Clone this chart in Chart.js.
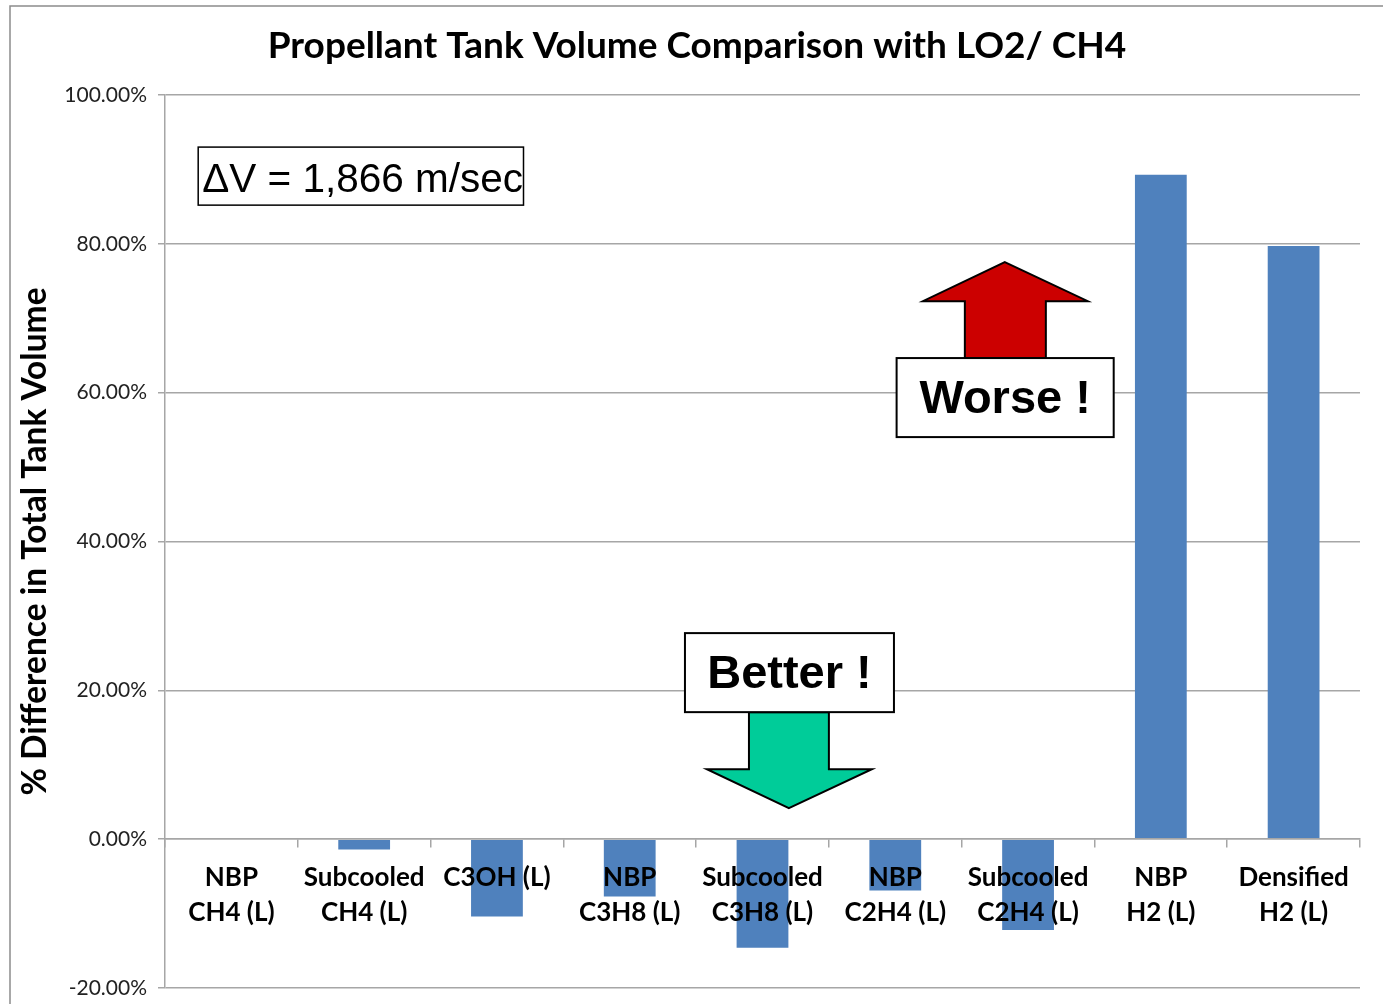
<!DOCTYPE html>
<html>
<head>
<meta charset="utf-8">
<script src="https://cdn.jsdelivr.net/npm/chart.js@4.4.1/dist/chart.umd.min.js"></script>
<style>
  html, body { margin: 0; padding: 0; background: #fff; }
  #wrap { position: absolute; left: 0; top: 0; width: 1383px; height: 1004px; }
</style>
</head>
<body>
<div id="wrap"><canvas id="c" width="1383" height="1004"></canvas></div>
<script>
// ---- data ----
const chartTitle = 'Propellant Tank Volume Comparison with LO2/ CH4';
const yAxisTitle = '% Difference in Total Tank Volume';
const categories = [
  ['NBP', 'CH4 (L)'],
  ['Subcooled', 'CH4 (L)'],
  'C3OH (L)',
  ['NBP', 'C3H8 (L)'],
  ['Subcooled', 'C3H8 (L)'],
  ['NBP', 'C2H4 (L)'],
  ['Subcooled', 'C2H4 (L)'],
  ['NBP', 'H2 (L)'],
  ['Densified', 'H2 (L)']
];
const pctDifference = [0, -1.4, -10.4, -7.7, -14.6, -6.9, -12.2, 89.3, 79.7];
const yTickValues = [-20, 0, 20, 40, 60, 80, 100];
const deltaVText = '\u0394V = 1,866 m/sec';
const worseText = 'Worse !';
const betterText = 'Better !';

// annotation placement in data units (x: category index, y: percent)
const deltaVBox = { x0: -0.25, x1: 2.2, y0: 93.0, y1: 85.2 };
const worseBox = { x0: 5.01, x1: 6.645, y0: 64.65, y1: 54.03 };
const worseArrow = { tipX: 5.825, tipY: 77.55, headY: 72.3, headX0: 5.208, headX1: 6.45, shaftX0: 5.524, shaftX1: 6.134 };
const betterBox = { x0: 3.416, x1: 4.99, y0: 27.69, y1: 17.07 };
const betterArrow = { tipX: 4.199, tipY: 4.17, headY: 9.41, headX0: 3.581, headX1: 4.824, shaftX0: 3.898, shaftX1: 4.5 };

const gridColor = '#a6a6a6';

const annotations = {
  id: 'annotations',
  beforeDraw(chart) {
    const ctx = chart.ctx;
    ctx.save();
    ctx.fillStyle = '#fff';
    ctx.fillRect(0, 0, chart.width, chart.height);
    ctx.strokeStyle = '#8c8c8c';
    ctx.lineWidth = 1.5;
    ctx.beginPath();
    ctx.moveTo(10, chart.height);
    ctx.lineTo(10, 6);
    ctx.lineTo(chart.width, 6);
    ctx.stroke();
    // title
    ctx.fillStyle = '#000';
    ctx.font = 'bold 37px Lato';
    ctx.textAlign = 'center';
    ctx.textBaseline = 'middle';
    ctx.fillText(chartTitle, 697, 46);
    ctx.restore();
  },
  afterDraw(chart) {
    const ctx = chart.ctx;
    const xs = chart.scales.x, ys = chart.scales.y;
    const cw = (xs.right - xs.left) / categories.length;
    const X = v => xs.left + (v + 0.5) * cw;
    const Y = v => ys.getPixelForValue(v);
    ctx.save();
    ctx.lineJoin = 'miter';

    function box(b, text, font, align) {
      const x0 = X(b.x0), x1 = X(b.x1), y0 = Y(b.y0), y1 = Y(b.y1);
      ctx.fillStyle = '#fff';
      ctx.fillRect(x0, y0, x1 - x0, y1 - y0);
      ctx.strokeStyle = '#000';
      ctx.lineWidth = align === 'left' ? 1.5 : 2;
      ctx.strokeRect(x0, y0, x1 - x0, y1 - y0);
      ctx.fillStyle = '#000';
      ctx.font = font;
      ctx.textBaseline = 'middle';
      if (align === 'left') {
        ctx.textAlign = 'left';
        ctx.fillText(text, x0 + 4, (y0 + y1) / 2 + 5);
      } else {
        ctx.textAlign = 'center';
        ctx.fillText(text, (x0 + x1) / 2, (y0 + y1) / 2 + 2);
      }
    }

    function arrow(a, shaftEndY, color) {
      ctx.beginPath();
      ctx.moveTo(X(a.tipX), Y(a.tipY));
      ctx.lineTo(X(a.headX1), Y(a.headY));
      ctx.lineTo(X(a.shaftX1), Y(a.headY));
      ctx.lineTo(X(a.shaftX1), shaftEndY);
      ctx.lineTo(X(a.shaftX0), shaftEndY);
      ctx.lineTo(X(a.shaftX0), Y(a.headY));
      ctx.lineTo(X(a.headX0), Y(a.headY));
      ctx.closePath();
      ctx.fillStyle = color;
      ctx.fill();
      ctx.strokeStyle = '#000';
      ctx.lineWidth = 2;
      ctx.stroke();
    }

    arrow(worseArrow, Y(worseBox.y0), '#cc0000');
    arrow(betterArrow, Y(betterBox.y1), '#00cc99');
    box(deltaVBox, deltaVText, '40.5px "Liberation Sans"', 'left');
    box(worseBox, worseText, 'bold 47px "Liberation Sans"', 'center');
    box(betterBox, betterText, 'bold 47px "Liberation Sans"', 'center');
    ctx.restore();
  }
};

new Chart(document.getElementById('c'), {
  type: 'bar',
  data: {
    labels: categories,
    datasets: [{
      data: pctDifference,
      backgroundColor: '#4f81bd',
      borderWidth: 0,
      barPercentage: 0.39,
      categoryPercentage: 1.0
    }]
  },
  options: {
    responsive: false,
    animation: false,
    layout: { padding: { left: 0, right: 23, top: 95, bottom: 16 } },
    plugins: {
      legend: { display: false },
      tooltip: { enabled: false },
      title: { display: false }
    },
    scales: {
      x: {
        type: 'category',
        position: { y: 0 },
        offset: true,
        grid: {
          offset: true,
          drawOnChartArea: false,
          drawTicks: true,
          tickLength: 8,
          color: gridColor,
          lineWidth: 1.5,
          z: 1
        },
        border: { display: true, color: gridColor, width: 1.5, z: 1 },
        ticks: {
          z: 2,
          autoSkip: false,
          maxRotation: 0,
          minRotation: 0,
          padding: 13,
          color: '#000',
          font: { family: 'Lato', weight: 'bold', size: 26, lineHeight: 1.35 }
        }
      },
      y: {
        min: -20,
        max: 100,
        afterFit(scale) { scale.width = 165; },
        afterBuildTicks(scale) { scale.ticks = yTickValues.map(v => ({ value: v })); },
        grid: {
          color: gridColor,
          lineWidth: 1.5,
          drawTicks: true,
          tickLength: 7
        },
        border: { display: true, color: gridColor, width: 1.5 },
        ticks: {
          padding: 11,
          color: '#222',
          font: { family: 'Lato', size: 21, lineHeight: 0.4 },
          callback: v => v.toFixed(2) + '%'
        },
        title: {
          display: true,
          text: yAxisTitle,
          color: '#000',
          font: { family: 'Lato', weight: 'bold', size: 33.5 },
          padding: { top: 15, bottom: 0 }
        }
      }
    }
  },
  plugins: [annotations]
});
</script>
</body>
</html>
